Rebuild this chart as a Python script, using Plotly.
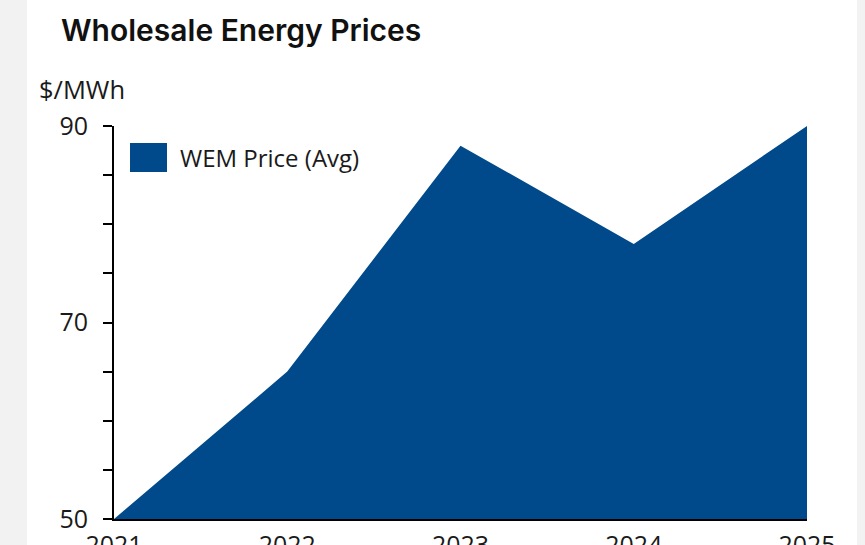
import plotly.graph_objects as go

years = [2021, 2022, 2023, 2024, 2025]
wem_price = [50, 65, 88, 78, 90]
y_tick_vals = [50, 55, 60, 65, 70, 75, 80, 85, 90]
y_tick_text = ["50", "", "", "", "70", "", "", "", "90"]
x_tick_text = ["2021", "2022", "2023", "2024", "2025"]
series_name = "WEM Price (Avg)"

W, H = 865, 545
L, R, T, B = 114, 807, 126, 519
pw, ph = R - L, B - T

def px(x):
    return (x - L) / pw

def py(y):
    return (B - y) / ph

FILL = "#004A8B"
FONT = "Open Sans"
TXT = "#1a1a1a"

fig = go.Figure()
fig.add_trace(go.Scatter(
    x=years, y=wem_price, mode="lines", fill="tozeroy",
    fillcolor=FILL, line=dict(color=FILL, width=0),
    name=series_name, showlegend=False, hoverinfo="x+y",
))

fig.update_layout(
    width=W, height=H,
    margin=dict(l=L, r=W - R, t=T, b=H - B, pad=0, autoexpand=False),
    paper_bgcolor="#f2f2f2",
    plot_bgcolor="white",
    font=dict(family=FONT, size=24, color=TXT),
    xaxis=dict(
        range=[2021, 2025], tickvals=years, ticktext=x_tick_text,
        showgrid=False, zeroline=False, showline=True, linecolor="black",
        linewidth=2, ticks="", ticklabelstandoff=3, automargin=False,
        tickfont=dict(family=FONT, size=25, color=TXT),
    ),
    yaxis=dict(
        range=[50, 90], tickvals=y_tick_vals, ticktext=y_tick_text,
        showgrid=False, zeroline=False, showline=True, linecolor="black",
        linewidth=2, ticks="outside", ticklen=9, tickwidth=2, tickcolor="black",
        ticklabelstandoff=10, automargin=False,
        tickfont=dict(family=FONT, size=25, color=TXT),
    ),
    shapes=[
        dict(type="rect", xref="paper", yref="paper",
             x0=px(27), x1=px(857), y0=py(H + 5), y1=py(-5),
             fillcolor="white", line=dict(width=0), layer="below"),
        dict(type="rect", xref="paper", yref="paper",
             x0=px(130), x1=px(167), y0=py(172), y1=py(143),
             fillcolor=FILL, line=dict(width=0), layer="above"),
    ],
    annotations=[
        dict(text="Wholesale Energy Prices", xref="paper", yref="paper",
             x=px(59), y=py(30), xanchor="left", yanchor="middle",
             showarrow=False,
             font=dict(family="Inter", size=30, weight=600, color="#111111")),
        dict(text="$/MWh", xref="paper", yref="paper",
             x=px(37), y=py(89), xanchor="left", yanchor="middle",
             showarrow=False, font=dict(family=FONT, size=25.5, color=TXT)),
        dict(text=series_name, xref="paper", yref="paper",
             x=px(178), y=py(158), xanchor="left", yanchor="middle",
             showarrow=False, font=dict(family=FONT, size=24, color=TXT)),
    ],
)

fig.write_html(
    "out.html",
    config={"displayModeBar": False},
    post_script="document.body.style.margin='0';document.body.style.overflow='hidden';",
)
